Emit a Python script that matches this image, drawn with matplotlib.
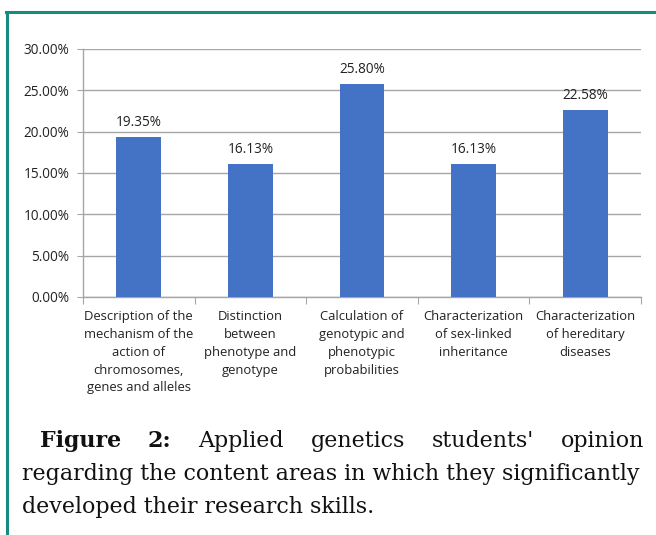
import matplotlib.pyplot as plt
from matplotlib.lines import Line2D
from matplotlib.ticker import FuncFormatter, FixedLocator

# Data
categories = [
    "Description of the\nmechanism of the\naction of\nchromosomes,\ngenes and alleles",
    "Distinction\nbetween\nphenotype and\ngenotype",
    "Calculation of\ngenotypic and\nphenotypic\nprobabilities",
    "Characterization\nof sex-linked\ninheritance",
    "Characterization\nof hereditary\ndiseases",
]
values = [19.35, 16.13, 25.80, 16.13, 22.58]
yticks = [0, 5, 10, 15, 20, 25, 30]

caption_bold = "Figure 2:"
caption_line1 = "Applied genetics students' opinion"
caption_line2 = "regarding the content areas in which they significantly"
caption_line3 = "developed their research skills."

bar_color = "#4472C4"
grid_color = "#A6A6A6"
teal = "#178A82"
sans = ["Open Sans", "DejaVu Sans"]
serif = ["DejaVu Serif"]

fig = plt.figure(figsize=(6.56, 5.35), dpi=100)
W, H = 656, 535

ax = fig.add_axes([83 / W, 1 - 297 / H, (641 - 83) / W, (297 - 49) / H])
x = list(range(len(values)))
ax.bar(x, values, width=0.4, color=bar_color, zorder=3)
ax.set_xlim(-0.5, len(values) - 0.5)
ax.set_ylim(0, 30)

# gridlines and axes
ax.set_yticks(yticks)
ax.yaxis.set_major_formatter(FuncFormatter(lambda v, p: f"{v:.2f}%"))
ax.grid(axis="y", color=grid_color, linewidth=1, zorder=0)
for s in ["top", "right"]:
    ax.spines[s].set_visible(False)
for s in ["left", "bottom"]:
    ax.spines[s].set_color(grid_color)
    ax.spines[s].set_linewidth(1)
ax.tick_params(axis="y", length=4, color=grid_color, pad=6, labelsize=9.8, labelcolor="#222222")
for lab in ax.get_yticklabels():
    lab.set_family(sans)

# category boundaries as major ticks, labels on minor ticks
ax.xaxis.set_major_locator(FixedLocator([i - 0.5 for i in range(len(values) + 1)]))
ax.xaxis.set_major_formatter(FuncFormatter(lambda v, p: ""))
ax.xaxis.set_minor_locator(FixedLocator(x))
ax.set_xticklabels(categories, minor=True, family=sans, fontsize=9.4,
                   color="#222222", linespacing=1.48)
ax.tick_params(axis="x", which="major", length=5, color=grid_color)
ax.tick_params(axis="x", which="minor", length=0, pad=9.5)

for xi, v in zip(x, values):
    ax.annotate(f"{v:.2f}%", (xi, v), xytext=(0, 5), textcoords="offset points",
                ha="center", va="bottom", family=sans, fontsize=9.8, color="#222222")

# teal frame on top and left
fig.add_artist(Line2D([6 / W, 1], [1 - 12 / H, 1 - 12 / H], color=teal, linewidth=2.2))
fig.add_artist(Line2D([7 / W, 7 / W], [0, 1 - 12 / H], color=teal, linewidth=2.2))

# caption: size chosen so the second line fills the text width
fig.canvas.draw()
r = fig.canvas.get_renderer()
left_px, right_px = 22, 644
probe = fig.text(0, 0, caption_line2, fontsize=15, family=serif)
fs = 15 * (right_px - left_px) / probe.get_window_extent(r).width
probe.remove()
y1, y2, y3 = 1 - 441 / H, 1 - 474 / H, 1 - 507 / H

words = [(w, "bold") for w in caption_bold.split()] + \
        [(w, "normal") for w in caption_line1.split()]
texts = []
for w, wt in words:
    t = fig.text(0, y1, w, fontsize=fs, family=serif, weight=wt, va="center", color="#111111")
    texts.append(t)
widths = [t.get_window_extent(r).width for t in texts]
start = 40
gap = (right_px - start - sum(widths)) / (len(widths) - 1)
cx = start
for t, wdt in zip(texts, widths):
    t.set_x(cx / W)
    cx += wdt + gap

fig.text(left_px / W, y2, caption_line2, fontsize=fs, family=serif, va="center", color="#111111")
fig.text(left_px / W, y3, caption_line3, fontsize=fs, family=serif, va="center", color="#111111")

fig.savefig("out.png", dpi=100)
